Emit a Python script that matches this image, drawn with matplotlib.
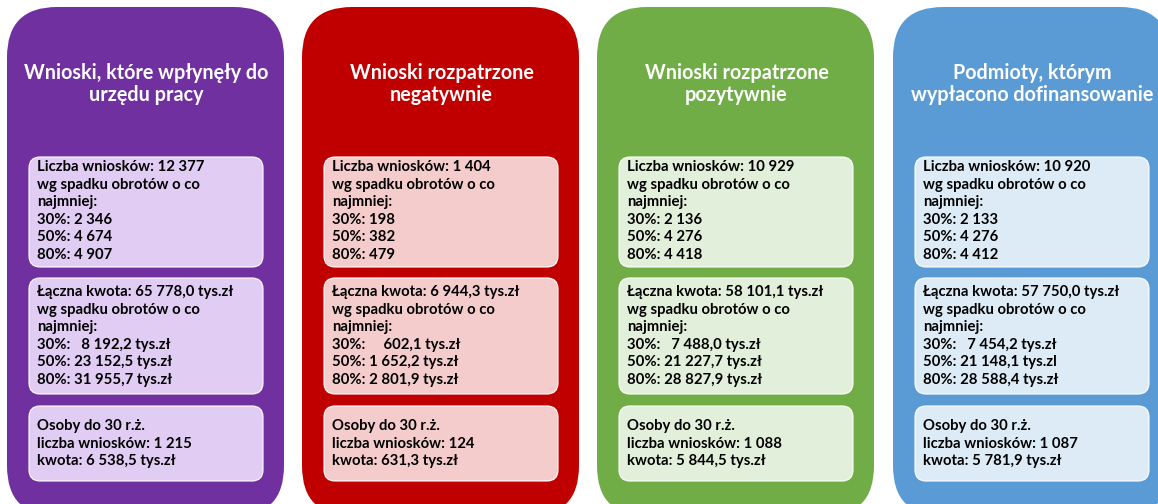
import matplotlib
matplotlib.use('Agg')
import matplotlib.pyplot as plt
from matplotlib.patches import FancyBboxPatch

plt.rcParams['font.family'] = ['Lato', 'DejaVu Sans']

# data
titles = ['Wnioski, które wpłynęły do\nurzędu pracy',
          'Wnioski rozpatrzone\nnegatywnie',
          'Wnioski rozpatrzone\npozytywnie',
          'Podmioty, którym\nwypłacono dofinansowanie']
col_colors = ['#7030A0', '#C00000', '#70AD47', '#5B9BD5']
box_colors = ['#E1CDF4', '#F4CCCC', '#E2EFDA', '#DDEBF7']

n_total = [12377, 1404, 10929, 10920]
n_30 = [2346, 198, 2136, 2133]
n_50 = [4674, 382, 4276, 4276]
n_80 = [4907, 479, 4418, 4412]

amt_total = [65778.0, 6944.3, 58101.1, 57750.0]
amt_30 = [8192.2, 602.1, 7488.0, 7454.2]
amt_50 = [23152.5, 1652.2, 21227.7, 21148.1]
amt_80 = [31955.7, 2801.9, 28827.9, 28588.4]
unit_50 = ['tys.zł', 'tys.zł', 'tys.zł', 'tys.zl']

young_n = [1215, 124, 1088, 1087]
young_amt = [6538.5, 631.3, 5844.5, 5781.9]


def fmt_int(v):
    return '{:,}'.format(v).replace(',', ' ')


def fmt_amt(v):
    s = '{:,.1f}'.format(v)
    return s.replace(',', ' ').replace('.', ',')


W, H = 1158, 504
fig = plt.figure(figsize=(W / 100, H / 100), dpi=100)
ax = fig.add_axes([0, 0, 1, 1])
ax.set_xlim(0, W)
ax.set_ylim(H, 0)
ax.axis('off')

col_x = [7, 302, 597, 893]
col_w = 277
col_top, col_bot = 7, 516
inner = [(157, 267), (278, 394), (406, 481)]
fs_t = 14.2
fs_b = 10.7
lh = 17.6

for i in range(4):
    x0 = col_x[i]
    ax.add_patch(FancyBboxPatch((x0, col_top), col_w, col_bot - col_top,
                                boxstyle='round,pad=0,rounding_size=50',
                                fc=col_colors[i], ec='none'))
    ax.text(x0 + col_w / 2 + 1, 84, titles[i], ha='center', va='center',
            color='white', fontsize=fs_t, fontweight='bold', linespacing=1.15)

    # inner boxes
    for (y0, y1) in inner:
        ax.add_patch(FancyBboxPatch((x0 + 22, y0), col_w - 43, y1 - y0,
                                    boxstyle='round,pad=0,rounding_size=11',
                                    fc=box_colors[i], ec='white', lw=0.8))

    miss = len(fmt_amt(amt_50[i])) - len(fmt_amt(amt_30[i]))
    blocks = [
        ['Liczba wniosków: ' + fmt_int(n_total[i]),
         'wg spadku obrotów o co',
         'najmniej:',
         '30%: ' + fmt_int(n_30[i]),
         '50%: ' + fmt_int(n_50[i]),
         '80%: ' + fmt_int(n_80[i])],
        ['Łączna kwota: ' + fmt_amt(amt_total[i]) + ' tys.zł',
         'wg spadku obrotów o co',
         'najmniej:',
         '30%:' + ' ' * (1 + 2 * miss) + fmt_amt(amt_30[i]) + ' tys.zł',
         '50%: ' + fmt_amt(amt_50[i]) + ' ' + unit_50[i],
         '80%: ' + fmt_amt(amt_80[i]) + ' tys.zł'],
        ['Osoby do 30 r.ż.',
         'liczba wniosków: ' + fmt_int(young_n[i]),
         'kwota: ' + fmt_amt(young_amt[i]) + ' tys.zł'],
    ]
    starts = [167, 292, 426]
    for b, lines in enumerate(blocks):
        for k, line in enumerate(lines):
            ax.text(x0 + 30, starts[b] + k * lh, line, ha='left', va='center',
                    color='black', fontsize=fs_b, fontweight='bold')

fig.savefig('out.png', dpi=100)
